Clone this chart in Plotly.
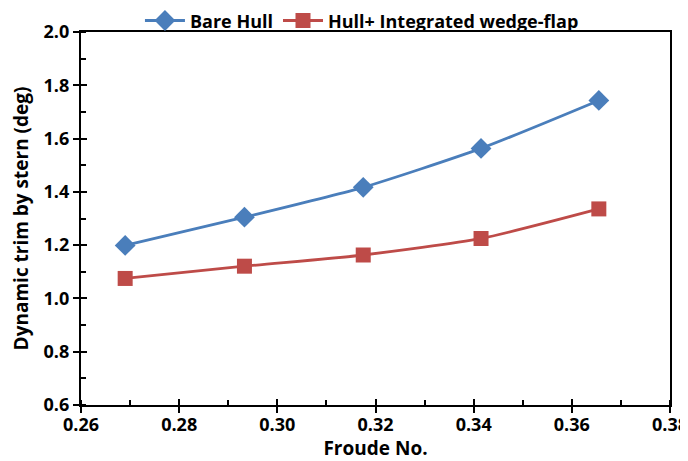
import plotly.graph_objects as go

froude = [0.269, 0.2933, 0.3175, 0.3415, 0.3655]
bare_hull = [1.199, 1.305, 1.417, 1.563, 1.743]
wedge_flap = [1.075, 1.121, 1.163, 1.225, 1.336]
x_ticks = [0.26, 0.28, 0.30, 0.32, 0.34, 0.36, 0.38]
y_ticks = [0.6, 0.8, 1.0, 1.2, 1.4, 1.6, 1.8, 2.0]
x_range = [0.26, 0.38]
y_range = [0.6, 2.0]

font_fam = "Open Sans, Lato, sans-serif"

fig = go.Figure()
fig.add_trace(go.Scatter(
    x=froude, y=bare_hull, name="Bare Hull", mode="lines+markers",
    line=dict(color="#4A7EBB", width=2.8, shape="spline", smoothing=0.6),
    marker=dict(symbol="diamond", size=16, color="#4A7EBB")))
fig.add_trace(go.Scatter(
    x=froude, y=wedge_flap, name="Hull+ Integrated wedge-flap", mode="lines+markers",
    line=dict(color="#BE4B48", width=2.8, shape="spline", smoothing=0.6),
    marker=dict(symbol="square", size=15, color="#BE4B48")))
# helper trace for the inner half of the crossing major ticks
fig.add_trace(go.Scatter(x=[None], y=[None], xaxis="x2", yaxis="y2",
                         showlegend=False, hoverinfo="skip"))

axis_common = dict(showgrid=False, zeroline=False, showline=True, linecolor="black",
                   linewidth=2.2, mirror=True, ticks="outside", tickwidth=2.2, ticklen=6,
                   tickcolor="black", automargin=False, ticklabeloverflow="allow",
                   tickfont=dict(family=font_fam, size=18, color="black", weight="bold"))

fig.update_layout(
    xaxis=dict(range=x_range, tickvals=x_ticks, ticktext=[f"{v:.2f}" for v in x_ticks],
               ticklabelstandoff=-4,
               title=dict(text="Froude No.", font=dict(family=font_fam, size=19, color="black", weight="bold"), standoff=3),
               minor=dict(dtick=0.01, ticks="inside", ticklen=5, tickwidth=2, tickcolor="black"),
               **axis_common),
    yaxis=dict(range=y_range, tickvals=y_ticks, ticktext=[f"{v:.1f}" for v in y_ticks],
               title=dict(text="Dynamic trim by stern (deg)", font=dict(family=font_fam, size=19, color="black", weight="bold"), standoff=12),
               minor=dict(dtick=0.1, ticks="inside", ticklen=5, tickwidth=2, tickcolor="black"),
               **axis_common),
    xaxis2=dict(range=x_range, overlaying="x", anchor="y2", side="bottom", tickvals=x_ticks,
                showticklabels=False, ticks="inside", ticklen=6, tickwidth=2.2, tickcolor="black",
                showgrid=False, zeroline=False, showline=False),
    yaxis2=dict(range=y_range, overlaying="y", anchor="x2", side="left", tickvals=y_ticks,
                showticklabels=False, ticks="inside", ticklen=6, tickwidth=2.2, tickcolor="black",
                showgrid=False, zeroline=False, showline=False),
    width=688, height=453,
    margin=dict(l=73, r=26, t=24, b=56, autoexpand=False),
    plot_bgcolor="white", paper_bgcolor="white",
    legend=dict(orientation="h", x=0.477, xref="paper", xanchor="center",
                y=1.03, yref="paper", yanchor="middle",
                bgcolor="rgba(0,0,0,0)",
                font=dict(family=font_fam, size=18, color="black", weight="bold"),
                itemwidth=40, tracegroupgap=0),
    showlegend=True,
)
fig.write_html("out.html")
